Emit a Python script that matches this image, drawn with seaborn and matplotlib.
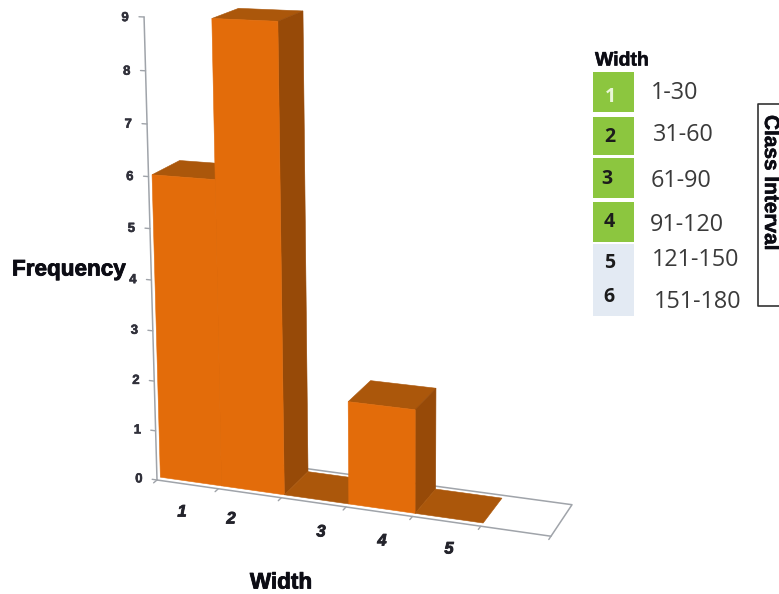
import numpy as np
import matplotlib
matplotlib.use("Agg")
import matplotlib.pyplot as plt
import matplotlib.patheffects as pe
import seaborn as sns
from matplotlib.patches import Polygon, Rectangle
from matplotlib.transforms import Transform

# Chart data
categories = ["1", "2", "3", "4", "5"]
frequency = [6, 9, 0, 2, 0]
frequency_ticks = [0, 1, 2, 3, 4, 5, 6, 7, 8, 9]
slot_count = 6

# Lookup table beside the chart
table_title = "Width"
table_codes = ["1", "2", "3", "4", "5", "6"]
class_intervals = ["1-30", "31-60", "61-90", "91-120", "121-150", "151-180"]

FRONT_COLOR = "#E36C0A"
TOP_COLOR = "#AB570B"
SIDE_COLOR = "#974A08"
AXIS_COLOR = "#A0A4AA"
TEXT_COLOR = "#23232B"
INK = "#0C0C14"
GREEN = "#8CC63F"
PALE_BLUE = "#E3EAF3"

# Camera: (slot, value, depth) -> pixel, in homogeneous coordinates
CAMERA = np.array([
    [157.0, 58.5, -2.23, 39.3],
    [480.0, 2.4, -51.54, -11.5],
    [1.0, -0.013, -0.0055, 0.0348],
])
BAR_FRONT, BAR_BACK = 0.10, 0.91


def project(u, v, d):
    u, v, d = np.broadcast_arrays(u, v, d)
    h = np.stack([np.ones_like(u, dtype=float), u, v, d], axis=-1) @ CAMERA.T
    return h[..., :2] / h[..., 2:3]


def heavy(color, width=0.6):
    # Thickens bold lettering with a thin outline of its own colour
    return [pe.withStroke(linewidth=width, foreground=color)]


class WallProjection(Transform):
    """Maps (slot, value) on a plane of constant depth to pixels."""
    input_dims = 2
    output_dims = 2
    is_affine = False

    def __init__(self, plane_depth):
        super().__init__()
        self.plane_depth = plane_depth

    def transform_non_affine(self, values):
        values = np.asarray(values, dtype=float)
        return project(values[:, 0], values[:, 1], self.plane_depth)


sns.set_theme(style="white")
plt.rcParams["font.family"] = ["Liberation Sans", "DejaVu Sans"]

fig = plt.figure(figsize=(7.79, 5.94), dpi=100, facecolor="white")
ax = fig.add_axes([0, 0, 1, 1])

# Front faces come from a regular seaborn bar chart, then go through the camera
centres = np.arange(len(frequency)) + 0.5
sns.barplot(x=centres, y=frequency, native_scale=True, width=1.0, color=FRONT_COLOR,
            saturation=1, linewidth=0.4, edgecolor=FRONT_COLOR, ax=ax)
front = WallProjection(BAR_FRONT) + ax.transData
for i, patch in enumerate(ax.patches):
    patch.set_transform(front)
    patch.set_zorder(5 + 3 * i + 2)
    if frequency[i] == 0:
        patch.set_visible(False)

ax.set_xlim(0, 779)
ax.set_ylim(594, 0)
ax.set_xlabel("")
ax.set_ylabel("")
ax.axis("off")

# Side and top faces of every bar
for i, value in enumerate(frequency):
    x0, x1 = float(i), float(i + 1)
    top = project([x0, x1, x1, x0], value, [BAR_FRONT, BAR_FRONT, BAR_BACK, BAR_BACK])
    ax.add_patch(Polygon(top, closed=True, fc=TOP_COLOR, ec=TOP_COLOR, lw=0.4, zorder=5 + 3 * i))
    if value > 0:
        side = project(x1, [0, value, value, 0], [BAR_FRONT, BAR_FRONT, BAR_BACK, BAR_BACK])
        ax.add_patch(Polygon(side, closed=True, fc=SIDE_COLOR, ec=SIDE_COLOR, lw=0.4, zorder=5 + 3 * i + 1))

# Floor outline and value axis
outline = project([0, slot_count, slot_count, 0], 0, [0, 0, 1, 1])
ax.plot(outline[:, 0], outline[:, 1], color=AXIS_COLOR, lw=1.1, zorder=2)
v_axis = project(0, [0, frequency_ticks[-1]], 0)
ax.plot(v_axis[:, 0], v_axis[:, 1], color=AXIS_COLOR, lw=1.1, zorder=2)

for v in frequency_ticks:
    seg = project([-0.08, 0], v, 0)
    ax.plot(seg[:, 0], seg[:, 1], color=AXIS_COLOR, lw=1.0, zorder=2)
    lx, ly = project(-0.3, v, 0)
    ax.text(lx, ly + 2, str(v), ha="center", va="center", fontsize=9.5, fontweight="bold",
            color="#30303A", path_effects=heavy("#30303A", 0.4))

for u in range(slot_count + 1):
    seg = project(u, 0, [0, -0.1])
    ax.plot(seg[:, 0], seg[:, 1], color=AXIS_COLOR, lw=1.0, zorder=2)

# Category labels sit unevenly under the floor
label_spots = [(182, 512), (231, 519), (321, 532), (382, 541), (449, 549)]
for text, (lx, ly) in zip(categories, label_spots):
    ax.text(lx, ly, text, ha="center", va="center", fontsize=12, fontweight="bold",
            style="italic", color=TEXT_COLOR, path_effects=heavy(TEXT_COLOR))

ax.text(12, 270, "Frequency", ha="left", va="center", fontsize=16.2, fontweight="bold", color=INK,
        path_effects=heavy(INK))
ax.text(281, 583, "Width", ha="center", va="center", fontsize=16.2, fontweight="bold", color=INK,
        path_effects=heavy(INK))

# Lookup table
ax.text(595, 61, table_title, ha="left", va="center", fontsize=14, fontweight="bold", color=INK,
        path_effects=heavy(INK, 0.4))
cell_rows = [(72, 112), (117, 155), (158, 198), (202, 242)]
for y0, y1 in cell_rows:
    ax.add_patch(Rectangle((593, y0), 41, y1 - y0, fc=GREEN, ec="none"))
ax.add_patch(Rectangle((593, 244), 41, 72, fc=PALE_BLUE, ec="none"))

code_spots = [(610, 97), (610, 137), (607, 179), (609, 222), (610, 263), (609, 297)]
for i, (text, (lx, ly)) in enumerate(zip(table_codes, code_spots)):
    ax.text(lx, ly, text, ha="center", va="center", fontsize=14, fontweight="bold",
            family="Open Sans", color="#EAF6D8" if i == 0 else "#1C1C1C")

interval_spots = [(651, 93), (653, 135), (651, 181), (650, 225), (652, 260), (654, 302)]
for text, (lx, ly) in zip(class_intervals, interval_spots):
    ax.text(lx, ly, text, ha="left", va="center", fontsize=16.8, family="Open Sans", color="#3A3A3A")

# Bracket box running off the right edge
ax.plot([781, 758, 758, 781], [104, 104, 306, 306], color="#333333", lw=1.2, zorder=3)
ax.text(770.5, 183, "Class Interval", rotation=-90, ha="center", va="center", fontsize=15,
        fontweight="bold", color=INK, path_effects=heavy(INK, 0.4))

fig.savefig("out.png", dpi=100)
